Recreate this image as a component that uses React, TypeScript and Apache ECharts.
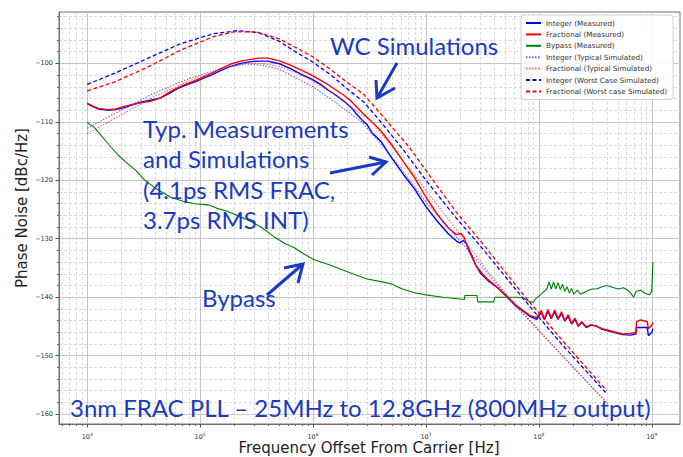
import React, { useEffect, useRef } from "react";
import * as echarts from "echarts";

// x values are log10(frequency offset in Hz), y values are dBc/Hz
const intMeasured: [number, number][] = [
  [4.0, -106.9], [4.05, -107.4], [4.1, -107.8], [4.18, -108.0], [4.25, -107.9], [4.32, -107.6], [4.4, -107.1],
  [4.48, -106.6], [4.56, -106.3], [4.65, -105.9], [4.72, -105.2], [4.8, -104.3], [4.89, -103.6], [4.96, -103.1],
  [5.03, -102.5], [5.1, -102.0], [5.17, -101.3], [5.27, -100.5], [5.36, -100.0], [5.45, -99.7], [5.52, -99.6],
  [5.6, -99.6], [5.71, -100.1], [5.8, -100.9], [5.9, -101.9], [5.98, -102.6], [6.06, -103.5], [6.13, -104.5],
  [6.2, -105.4], [6.27, -106.4], [6.34, -107.6], [6.4, -109.0], [6.45, -110.0], [6.48, -110.5], [6.52, -111.8],
  [6.6, -113.3], [6.7, -116.3], [6.8, -119.0], [6.9, -121.5], [7.0, -124.5], [7.1, -127.0], [7.2, -129.2],
  [7.27, -130.4], [7.3, -130.7], [7.33, -130.3], [7.36, -130.9], [7.4, -132.6], [7.44, -134.5], [7.48, -135.8],
  [7.55, -137.2], [7.63, -138.3], [7.72, -140.0], [7.8, -141.6], [7.87, -142.5], [7.92, -143.3], [7.98, -143.8],
  [8.02, -142.6], [8.05, -143.8], [8.08, -142.4], [8.11, -143.7], [8.14, -142.5], [8.17, -143.8], [8.2, -142.8],
  [8.23, -144.1], [8.26, -143.3], [8.29, -144.6], [8.32, -143.8], [8.35, -145.0], [8.38, -144.3], [8.42, -145.2],
  [8.46, -144.8], [8.51, -144.9], [8.56, -145.5], [8.62, -145.8], [8.68, -146.1], [8.74, -146.4], [8.81, -146.5],
  [8.86, -146.3], [8.865, -145.2], [8.96, -145.2], [8.97, -146.6], [9.0, -146.0], [9.01, -145.4],
];

const fracMeasured: [number, number][] = [
  [4.0, -106.8], [4.05, -107.3], [4.1, -107.7], [4.18, -107.9], [4.25, -107.8], [4.32, -107.4], [4.4, -107.0],
  [4.48, -106.7], [4.56, -106.5], [4.65, -105.9], [4.72, -105.0], [4.8, -104.2], [4.89, -103.4], [4.96, -102.9],
  [5.03, -102.3], [5.1, -101.7], [5.17, -101.0], [5.27, -100.1], [5.36, -99.6], [5.45, -99.3], [5.52, -99.1],
  [5.6, -99.1], [5.71, -99.6], [5.8, -100.3], [5.9, -101.2], [5.98, -101.9], [6.06, -102.8], [6.13, -103.6],
  [6.2, -104.5], [6.27, -105.4], [6.34, -106.5], [6.4, -107.7], [6.45, -108.7], [6.52, -110.0], [6.6, -111.5],
  [6.7, -114.0], [6.8, -116.8], [6.9, -119.6], [7.0, -122.9], [7.1, -125.8], [7.2, -128.2], [7.27, -129.3],
  [7.31, -129.1], [7.34, -129.8], [7.37, -131.6], [7.41, -133.3], [7.45, -134.8], [7.5, -136.0], [7.55, -137.0],
  [7.63, -138.3], [7.72, -139.9], [7.8, -141.4], [7.87, -142.4], [7.92, -143.1], [7.98, -143.5],
  [8.02, -142.3], [8.05, -143.7], [8.08, -142.1], [8.11, -143.6], [8.14, -142.2], [8.17, -143.7], [8.2, -142.5],
  [8.23, -144.0], [8.26, -143.0], [8.29, -144.5], [8.32, -143.6], [8.35, -144.9], [8.38, -144.2], [8.42, -145.1],
  [8.46, -144.7], [8.51, -145.0], [8.56, -145.4], [8.62, -145.7], [8.68, -146.0], [8.74, -146.3], [8.81, -146.2],
  [8.86, -146.0], [8.865, -144.2], [8.9, -143.9], [8.96, -144.2], [8.97, -145.4], [9.0, -144.8], [9.01, -144.3],
];

const bypassMeasured: [number, number][] = [
  [4.0, -110.1], [4.06, -110.9], [4.13, -112.5], [4.21, -114.3], [4.28, -115.8], [4.36, -117.2], [4.43, -118.3],
  [4.51, -120.0], [4.6, -121.3], [4.74, -122.9], [4.85, -123.6], [4.95, -124.0], [5.07, -124.2], [5.15, -124.8],
  [5.24, -125.3], [5.4, -126.6], [5.54, -128.0], [5.65, -129.6], [5.75, -130.8], [5.83, -131.5], [5.92, -132.6],
  [6.01, -133.6], [6.15, -134.5], [6.27, -135.4], [6.38, -136.2], [6.48, -136.9], [6.59, -137.3], [6.69, -137.7],
  [6.78, -138.5], [6.89, -139.2], [7.0, -139.6], [7.15, -140.0], [7.3, -140.3], [7.34, -140.4], [7.345, -139.7],
  [7.45, -139.7], [7.46, -140.8], [7.6, -140.8], [7.61, -140.0], [7.8, -140.0], [7.86, -140.1], [7.9, -140.6],
  [7.95, -140.9], [7.97, -140.3], [7.99, -140.0], [8.03, -139.3], [8.07, -138.6], [8.09, -137.4], [8.11, -138.6],
  [8.13, -137.4], [8.15, -138.6], [8.17, -137.5], [8.19, -138.7], [8.21, -137.8], [8.23, -139.0], [8.25, -138.2],
  [8.27, -139.3], [8.29, -138.5], [8.31, -139.5], [8.34, -138.8], [8.37, -139.5], [8.42, -139.0], [8.47, -138.6],
  [8.51, -138.6], [8.56, -138.2], [8.6, -138.0], [8.65, -138.3], [8.7, -138.6], [8.75, -138.4], [8.8, -139.0],
  [8.84, -140.0], [8.86, -139.0], [8.9, -138.8], [8.95, -139.4], [8.98, -139.6], [9.0, -139.0], [9.01, -134.0],
];

const intTypical: [number, number][] = [
  [4.0, -111.1], [4.3, -108.0], [4.6, -105.0], [4.9, -102.6], [5.2, -100.8], [5.4, -100.1], [5.55, -100.3],
  [5.7, -101.0], [5.86, -102.6], [6.0, -104.0], [6.2, -106.7], [6.43, -110.0], [6.7, -116.0], [7.0, -123.7],
  [7.33, -131.0], [7.55, -136.0], [7.75, -140.6], [8.2, -149.9], [8.61, -158.3],
];

const fracTypical: [number, number][] = [
  [4.0, -112.0], [4.3, -108.8], [4.6, -105.6], [4.9, -103.0], [5.2, -100.9], [5.4, -100.0], [5.55, -100.0],
  [5.7, -100.5], [5.86, -101.7], [6.0, -103.0], [6.2, -105.5], [6.52, -110.0], [6.75, -115.5], [7.0, -121.7],
  [7.33, -130.0], [7.55, -135.6], [7.75, -140.4], [8.2, -149.8], [8.61, -158.2],
];

const intWorst: [number, number][] = [
  [4.0, -103.6], [4.24, -101.7], [4.54, -99.1], [4.83, -96.6], [5.12, -94.9], [5.33, -94.4], [5.51, -94.7],
  [5.7, -96.2], [5.86, -98.2], [6.0, -99.8], [6.16, -102.0], [6.3, -104.3], [6.45, -106.6], [6.6, -110.0],
  [6.8, -114.8], [7.0, -120.0], [7.27, -126.5], [7.48, -131.2], [7.86, -140.2], [8.2, -148.0], [8.6, -156.5],
];

const fracWorst: [number, number][] = [
  [4.0, -104.7], [4.24, -103.2], [4.54, -100.6], [4.83, -97.7], [5.12, -95.4], [5.3, -94.6], [5.5, -94.6],
  [5.7, -95.8], [5.86, -97.4], [6.0, -98.9], [6.16, -101.1], [6.3, -103.2], [6.45, -105.3], [6.66, -110.0],
  [6.85, -114.3], [7.0, -118.3], [7.27, -125.5], [7.48, -130.3], [7.86, -139.5], [8.2, -147.2], [8.6, -156.0],
];

const xMajorExponents = [4, 5, 6, 7, 8, 9];
const xMinorMultipliers = [2, 3, 4, 5, 6, 7, 8, 9];
const yMajorTicks = [-160, -150, -140, -130, -120, -110, -100];
const yMinorTicks = [
  -160, -158, -156, -154, -152, -148, -146, -144, -142, -138, -136, -134, -132, -128, -126, -124, -122,
  -118, -116, -114, -112, -108, -106, -104, -102, -98, -96, -94, -92,
];

const X_MIN = 3.75;
const X_MAX = 9.25;
const Y_MIN = -161.7;
const Y_MAX = -91.2;

const ANNOT = "#1a3bbf";
const ANNOT_FONT = "Lato, 'Open Sans', sans-serif";

export default function App() {
  const ref = useRef<HTMLDivElement>(null);
  useEffect(() => {
    document.body.style.margin = "0";
    if (!ref.current) return;
    const chart = echarts.init(ref.current, undefined, { renderer: "svg" });

    const xMinor: number[] = [];
    for (let n = 3; n <= 9; n++) {
      for (const k of xMinorMultipliers) {
        const v = n + Math.log10(k);
        if (v >= X_MIN && v <= X_MAX) xMinor.push(v);
      }
    }

    const line = (
      name: string,
      data: [number, number][],
      color: string,
      type: any,
      width: number,
      opacity = 1
    ) => ({
      type: "line",
      name,
      data,
      xAxisIndex: 0,
      yAxisIndex: 0,
      showSymbol: false,
      symbol: "none",
      silent: true,
      itemStyle: { color },
      lineStyle: { color, width, type, opacity },
      z: 3,
    });

    const tickFont = "'DejaVu Sans', sans-serif";

    chart.setOption({
      animation: false,
      backgroundColor: "#ffffff",
      grid: {
        left: 59,
        right: 3,
        top: 12,
        bottom: 33,
        containLabel: false,
        outerBoundsMode: "none",
        show: true,
        borderColor: "#6f6f6f",
        borderWidth: 1,
        backgroundColor: "transparent",
      },
      legend: {
        orient: "vertical",
        right: 10,
        top: 15,
        backgroundColor: "rgba(255,255,255,0.9)",
        borderColor: "#d0d0d0",
        borderWidth: 1,
        borderRadius: 3,
        padding: [4, 6, 4, 4],
        itemWidth: 15,
        itemHeight: 7,
        itemGap: 3.4,
        itemStyle: { opacity: 0 },
        textStyle: { fontSize: 7.2, fontFamily: tickFont, color: "#333", lineHeight: 8 },
        data: [
          "Integer (Measured)",
          "Fractional (Measured)",
          "Bypass (Measured)",
          "Integer (Typical Simulated)",
          "Fractional (Typical Simulated)",
          "Integer (Worst Case Simulated)",
          "Fractional (Worst case Simulated)",
        ],
      },
      xAxis: [
        {
          type: "value",
          min: X_MIN,
          max: X_MAX,
          position: "bottom",
          axisLine: { show: true, lineStyle: { color: "#6f6f6f", width: 1 } },
          axisTick: { show: true, length: 3.5, customValues: xMajorExponents, lineStyle: { color: "#555" } },
          axisLabel: {
            show: true,
            customValues: xMajorExponents,
            margin: 8,
            formatter: (v: number) => `10{e|${Math.round(v)}}`,
            fontSize: 6.5,
            fontFamily: tickFont,
            color: "#333",
            rich: {
              e: { fontSize: 4.5, fontFamily: tickFont, color: "#333", verticalAlign: "top", padding: [0, 0, 4, 0] },
            },
          },
          splitLine: { show: true, lineStyle: { color: "#c4c4c4", width: 1, type: "solid" } },
        },
        {
          type: "value",
          min: X_MIN,
          max: X_MAX,
          position: "bottom",
          axisLine: { show: false },
          axisTick: { show: true, length: 2, customValues: xMinor, lineStyle: { color: "#666" } },
          axisLabel: { show: false },
          splitLine: { show: true, lineStyle: { color: "#d2d2d2", width: 0.8, type: [3, 2] } },
        },
      ],
      yAxis: [
        {
          type: "value",
          min: Y_MIN,
          max: Y_MAX,
          position: "left",
          axisLine: { show: true, lineStyle: { color: "#6f6f6f", width: 1 } },
          axisTick: { show: true, length: 3.5, customValues: yMajorTicks, lineStyle: { color: "#555" } },
          axisLabel: {
            show: true,
            customValues: yMajorTicks,
            margin: 6,
            formatter: (v: number) => String(Math.round(v)).replace("-", "\u2212"),
            fontSize: 6.5,
            fontFamily: tickFont,
            color: "#333",
          },
          splitLine: { show: true, lineStyle: { color: "#c4c4c4", width: 1, type: "solid" } },
        },
        {
          type: "value",
          min: Y_MIN,
          max: Y_MAX,
          position: "left",
          axisLine: { show: false },
          axisTick: { show: true, length: 2, customValues: yMinorTicks, lineStyle: { color: "#666" } },
          axisLabel: { show: false },
          splitLine: { show: true, lineStyle: { color: "#d2d2d2", width: 0.8, type: [3, 2] } },
        },
      ],
      series: [
        line("Integer (Measured)", intMeasured, "#0000ff", "solid", 1.4),
        line("Fractional (Measured)", fracMeasured, "#ff0000", "solid", 1.4),
        line("Bypass (Measured)", bypassMeasured, "#008000", "solid", 1.1),
        line("Integer (Typical Simulated)", intTypical, "#3333ff", [1.5, 1.5], 1.1, 0.75),
        line("Fractional (Typical Simulated)", fracTypical, "#ff3333", [1.5, 1.5], 1.1, 0.75),
        line("Integer (Worst Case Simulated)", intWorst, "#0000ff", [4, 2.5], 1.3),
        line("Fractional (Worst case Simulated)", fracWorst, "#ff0000", [4, 2.5], 1.3),
      ],
      graphic: [
        {
          type: "text",
          x: 22,
          y: 208,
          rotation: Math.PI / 2,
          z: 10,
          style: {
            text: "Phase Noise [dBc/Hz]",
            font: `15px 'DejaVu Sans', sans-serif`,
            fill: "#222",
            align: "center",
            verticalAlign: "middle",
          },
        },
        {
          type: "text",
          x: 369,
          y: 448,
          z: 10,
          style: {
            text: "Frequency Offset From Carrier [Hz]",
            font: `15px 'DejaVu Sans', sans-serif`,
            fill: "#222",
            align: "center",
            verticalAlign: "middle",
          },
        },
        { type: "text", left: 330, top: 33, z: 10, style: { text: "WC Simulations", font: `24px ${ANNOT_FONT}`, fill: ANNOT } },
        {
          type: "text",
          left: 143,
          top: 113,
          z: 10,
          style: {
            text: "Typ. Measurements\nand Simulations\n(4.1ps RMS FRAC,\n3.7ps RMS INT)",
            font: `24px ${ANNOT_FONT}`,
            lineHeight: 30.5,
            fill: ANNOT,
          },
        },
        { type: "text", left: 202, top: 285, z: 10, style: { text: "Bypass", font: `24px ${ANNOT_FONT}`, fill: ANNOT } },
        {
          type: "text",
          left: 70,
          top: 395,
          z: 10,
          style: { text: "3nm FRAC PLL \u2013 25MHz to 12.8GHz (800MHz output)", font: `24px ${ANNOT_FONT}`, fill: ANNOT },
        },
        // arrows
        { type: "line", z: 10, shape: { x1: 397, y1: 63, x2: 377, y2: 98 }, style: { stroke: ANNOT, lineWidth: 3 } },
        { type: "polyline", z: 10, shape: { points: [[376, 80], [377, 98], [395, 88]] }, style: { stroke: ANNOT, lineWidth: 3, fill: "none" } },
        { type: "line", z: 10, shape: { x1: 330, y1: 173, x2: 386, y2: 162 }, style: { stroke: ANNOT, lineWidth: 3 } },
        { type: "polyline", z: 10, shape: { points: [[369, 157], [386, 162], [372, 175]] }, style: { stroke: ANNOT, lineWidth: 3, fill: "none" } },
        { type: "line", z: 10, shape: { x1: 267, y1: 295, x2: 303, y2: 264 }, style: { stroke: ANNOT, lineWidth: 3 } },
        { type: "polyline", z: 10, shape: { points: [[284, 268], [303, 264], [298, 283]] }, style: { stroke: ANNOT, lineWidth: 3, fill: "none" } },
      ],
    });

    return () => chart.dispose();
  }, []);

  return <div ref={ref} style={{ width: 683, height: 457 }} />;
}
